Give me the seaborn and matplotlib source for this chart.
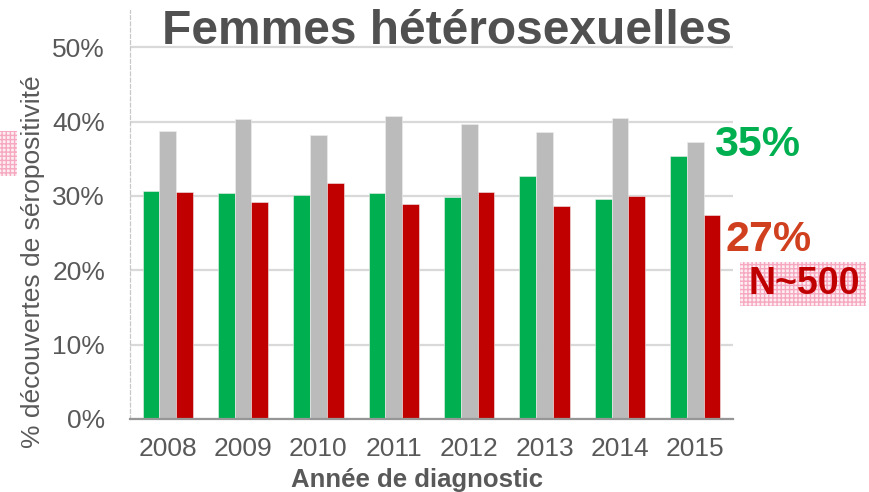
import matplotlib
matplotlib.use("Agg")
import matplotlib.pyplot as plt
import matplotlib.patches as mpatches
import numpy as np
import pandas as pd
import seaborn as sns

years = ["2008", "2009", "2010", "2011", "2012", "2013", "2014", "2015"]
serie_verte = [30.7, 30.4, 30.1, 30.4, 29.8, 32.7, 29.6, 35.3]
serie_grise = [38.7, 40.3, 38.2, 40.7, 39.7, 38.6, 40.5, 37.2]
serie_rouge = [30.5, 29.2, 31.7, 28.9, 30.5, 28.6, 30.0, 27.4]
series = ["verte", "grise", "rouge"]
palette = {"verte": "#00B050", "grise": "#BBBBBB", "rouge": "#C00000"}
y_ticks = [0, 10, 20, 30, 40, 50]

rows = []
for s, vals in zip(series, [serie_verte, serie_grise, serie_rouge]):
    for y, v in zip(years, vals):
        rows.append({"annee": y, "serie": s, "pct": v / 100})
df = pd.DataFrame(rows)

sns.set_theme(style="white")
plt.rcParams['font.family'] = ['Liberation Sans', 'DejaVu Sans']

fig = plt.figure(figsize=(8.7, 4.92), dpi=100)
ax = fig.add_axes([130 / 870, 1 - 419 / 492, (733 - 130) / 870, (419 - 10) / 492])

sns.barplot(data=df, x="annee", y="pct", hue="serie", hue_order=series,
            palette=palette, width=0.667, saturation=1, ax=ax, legend=False,
            edgecolor="#EEEEEE", linewidth=0.4)

ax.set_ylim(0, 0.55)
ax.set_xlim(-0.5, 7.5)
ax.set_yticks([t / 100 for t in y_ticks])
ax.set_yticklabels([f"{t}%" for t in y_ticks], fontsize=19, color="#595959")
ax.yaxis.grid(True, color="#D9D9D9", linewidth=1.6)
ax.set_axisbelow(True)

ax.tick_params(axis="x", which="major", length=0, labelsize=19, labelcolor="#595959", pad=13)
ax.tick_params(axis="y", length=0, pad=18)
ax.set_xticks(np.arange(-0.5, 8, 1), minor=True)
ax.tick_params(axis="x", which="minor", length=7, width=1.3, color="#969696", direction="out")

for side in ["top", "right"]:
    ax.spines[side].set_visible(False)
ax.spines["bottom"].set_color("#969696")
ax.spines["bottom"].set_linewidth(1.6)
ax.spines["left"].set_color("#C8C8C8")
ax.spines["left"].set_linestyle((0, (3, 2)))
ax.spines["left"].set_linewidth(0.9)

ax.set_xlabel("Année de diagnostic", fontsize=18.5, fontweight="bold", color="#595959")
ax.xaxis.set_label_coords(0.476, -0.12)
ax.set_ylabel("% découvertes de séropositivité", fontsize=19, color="#595959")
ax.yaxis.set_label_coords(-0.141, 0.384)

fig.text(447 / 870, 1 - 31 / 492, "Femmes hétérosexuelles", fontsize=34.5, fontweight="bold",
         color="#505050", ha="center", va="center")

fig.text(714 / 870, 1 - 145 / 492, "35%", fontsize=31, fontweight="bold", color="#00B050",
         ha="left", va="center")
fig.text(726 / 870, 1 - 240 / 492, "27%", fontsize=31, fontweight="bold", color="#D0401E",
         ha="left", va="center")

# boites roses hachurees
fig.patches.append(mpatches.Rectangle((740 / 870, 1 - 306 / 492), 126 / 870, 44 / 492,
                                      transform=fig.transFigure, facecolor="#FDEEF3",
                                      edgecolor="#F6A8C0", hatch="++++", linewidth=0))
fig.text(804 / 870, 1 - 284 / 492, "N~500", fontsize=27, fontweight="bold", color="#C00000",
         ha="center", va="center")
fig.patches.append(mpatches.Rectangle((0, 1 - 176 / 492), 17 / 870, 45 / 492,
                                      transform=fig.transFigure, facecolor="#FDEEF3",
                                      edgecolor="#F6A8C0", hatch="++++", linewidth=0))

fig.savefig("out.png", dpi=100)
